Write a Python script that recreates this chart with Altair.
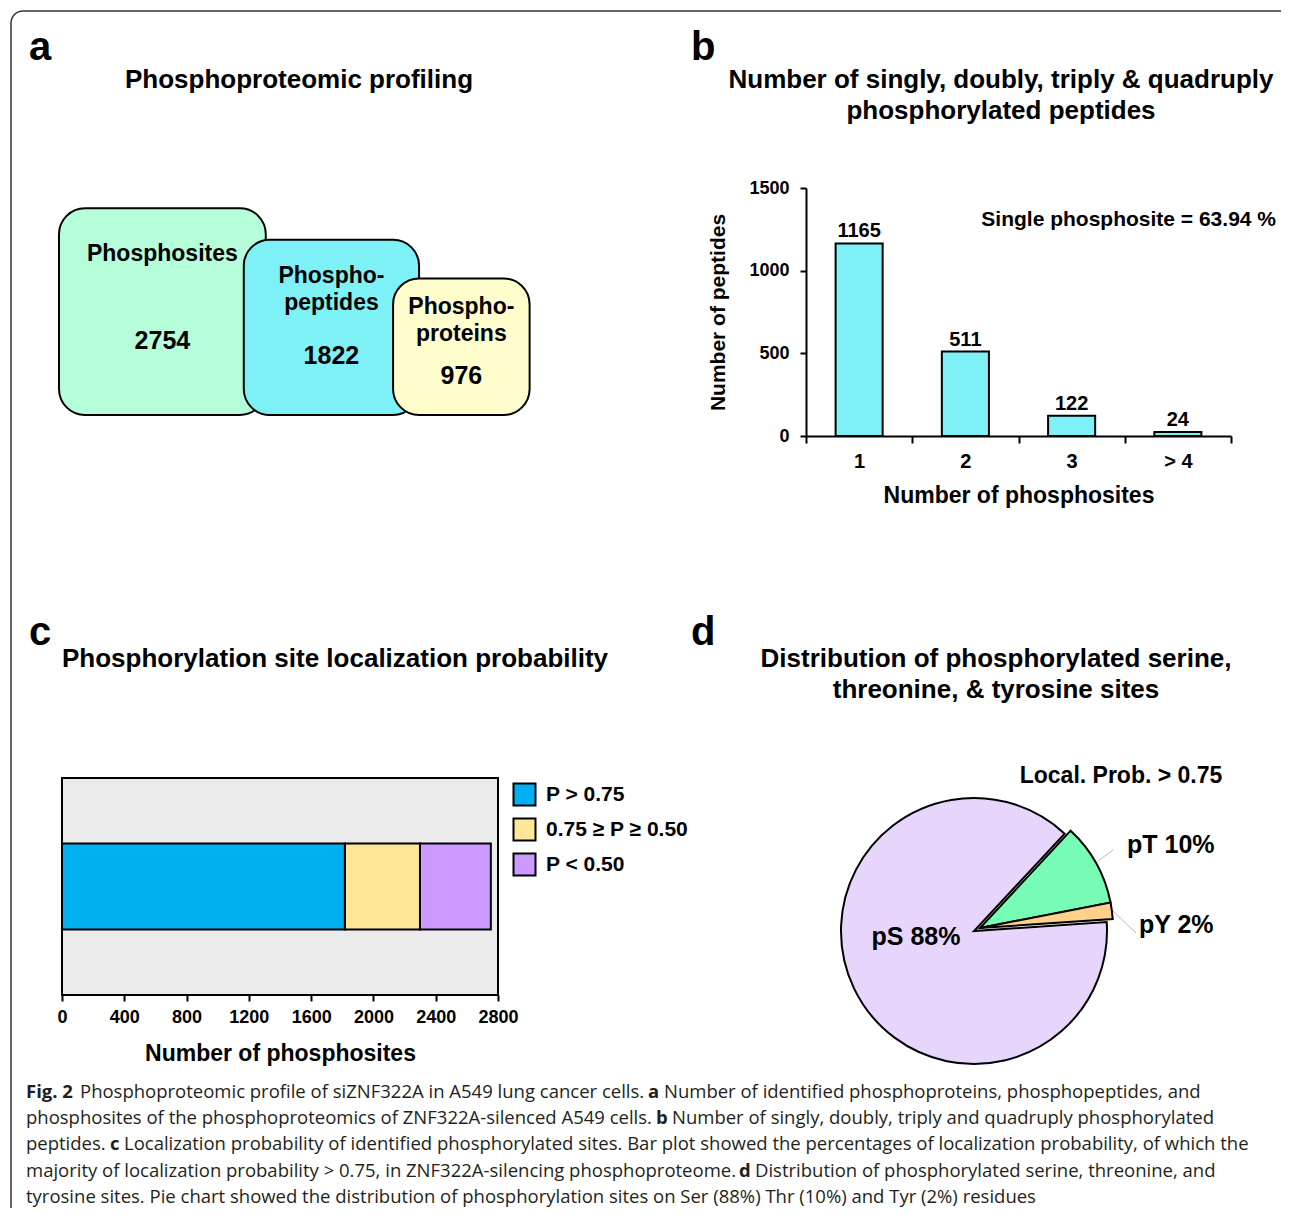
import math
import altair as alt
import pandas as pd

FONT = "Liberation Sans"
CAP_FONT = "Open Sans"

# ---------------- data ----------------
# panel a
a_names = ["Phosphosites", "Phosphopeptides", "Phosphoproteins"]
a_counts = [2754, 1822, 976]
a_lines = [["Phosphosites"], ["Phospho-", "peptides"], ["Phospho-", "proteins"]]
a_colors = ["#B6FDDA", "#7DF1F6", "#FFFDCB"]

# panel b
b_cats = ["1", "2", "3", "> 4"]
b_vals = [1165, 511, 122, 24]
b_ticks = [0, 500, 1000, 1500]

# panel c
c_cats = ["P > 0.75", "0.75 ≥ P ≥ 0.50", "P < 0.50"]
c_vals = [1817, 482, 455]
c_colors = ["#00B0F0", "#FFE699", "#CC99FF"]
c_ticks = [0, 400, 800, 1200, 1600, 2000, 2400, 2800]

# panel d
d_cats = ["pT", "pY", "pS"]
d_pcts = [10, 2, 88]
d_colors = ["#76FCB4", "#FFD18C", "#E8D5FC"]

# caption (text, bold)
caption_lines = [
    [("Fig. 2", True), ("Phosphoproteomic profile of siZNF322A in A549 lung cancer cells.", False),
     ("a", True), ("Number of identified phosphoproteins, phosphopeptides, and", False)],
    [("phosphosites of the phosphoproteomics of ZNF322A-silenced A549 cells.", False),
     ("b", True), ("Number of singly, doubly, triply and quadruply phosphorylated", False)],
    [("peptides.", False), ("c", True),
     ("Localization probability of identified phosphorylated sites. Bar plot showed the percentages of localization probability, of which the", False)],
    [("majority of localization probability > 0.75, in ZNF322A-silencing phosphoproteome.", False),
     ("d", True), ("Distribution of phosphorylated serine, threonine, and", False)],
    [("tyrosine sites. Pie chart showed the distribution of phosphorylation sites on Ser (88%) Thr (10%) and Tyr (2%) residues", False)],
]
caption_x = [[-36, 18, 586, 602], [-36, 594, 610], [-36, 48, 62], [-36, 677, 693], [-36]]
caption_y = [314, 340, 366, 393, 419]


def axis(**kw):
    base = dict(domainColor="black", domainWidth=2, tickColor="black", tickWidth=2, tickSize=6,
                labelFont=FONT, labelFontSize=18, labelFontWeight="bold", labelColor="black",
                titleFont=FONT, titleFontWeight="bold", titleColor="black", grid=False)
    base.update(kw)
    return alt.Axis(**base)


def label(text, x, y, size, align="center", weight="bold", baseline="middle", font=FONT, color="black"):
    return alt.Chart(pd.DataFrame({"t": [text]})).mark_text(
        align=align, baseline=baseline, fontSize=size, fontWeight=weight, font=font, color=color
    ).encode(x=alt.value(x), y=alt.value(y), text="t:N")


# ---------------- panel a ----------------
side = [8.7 * c ** 0.4 for c in a_counts]
overlaps = [0, 22, 26]
x0 = []
cur = 0.0
for i, s in enumerate(side):
    if i > 0:
        cur += side[i - 1] - overlaps[i]
    x0.append(cur)
dfa = pd.DataFrame({"name": a_names, "count": a_counts, "x0": x0,
                    "x1": [a + s for a, s in zip(x0, side)], "y1": side})
dfa["y0"] = 0.0
dfa["xc"] = dfa["x0"] + dfa["y1"] / 2
dfa["yn"] = dfa["y1"] / 2 - 29
gaps = [46, 36, 29]
rows = []
for i, (lines, s) in enumerate(zip(a_lines, side)):
    for k, t in enumerate(lines):
        rows.append({"t": t, "x": x0[i] + s / 2, "y": s - gaps[i] - 27 * k})
dfa_lab = pd.DataFrame(rows)

xs_a = alt.Scale(domain=[3, 471], nice=False, zero=False)
ys_a = alt.Scale(domain=[-21, 227], nice=False, zero=False)

boxes = alt.Chart(dfa).mark_rect(cornerRadius=26, stroke="black", strokeWidth=2).encode(
    x=alt.X("x0:Q", scale=xs_a, axis=None), x2="x1:Q",
    y=alt.Y("y0:Q", scale=ys_a, axis=None), y2="y1:Q",
    color=alt.Color("name:N", scale=alt.Scale(domain=a_names, range=a_colors), legend=None),
)
nums = alt.Chart(dfa).mark_text(fontSize=25, fontWeight="bold", baseline="middle").encode(
    x=alt.X("xc:Q", scale=xs_a, axis=None), y=alt.Y("yn:Q", scale=ys_a, axis=None),
    text=alt.Text("count:Q", format="d"),
)
labs = alt.Chart(dfa_lab).mark_text(fontSize=23, fontWeight="bold", baseline="middle").encode(
    x=alt.X("x:Q", scale=xs_a, axis=None), y=alt.Y("y:Q", scale=ys_a, axis=None), text="t:N",
)
border_top = alt.Chart(pd.DataFrame({"v": [0]})).mark_rule(color="#333333", strokeWidth=1.5).encode(
    x=alt.value(-39), x2=alt.value(1219), y=alt.value(-177))
border_left = alt.Chart(pd.DataFrame({"v": [0]})).mark_rule(color="#333333", strokeWidth=1.5).encode(
    x=alt.value(-51), y=alt.value(-165), y2=alt.value(1020))
border_corner = alt.Chart(pd.DataFrame({"v": [0]})).mark_arc(color="#333333").encode(
    x=alt.value(-39), y=alt.value(-165), theta=alt.value(4.7124), theta2=alt.value(6.2832),
    radius=alt.value(12.75), radius2=alt.value(11.25))

panel_a = alt.layer(
    boxes, nums, labs,
    label("a", -33, -140, 40, align="left"),
    label("Phosphoproteomic profiling", 237, -108, 26),
    border_top, border_left, border_corner,
).properties(width=468, height=248)

# ---------------- panel b ----------------
dfb = pd.DataFrame({"k": b_cats, "n": b_vals})
xb = alt.X("k:N", sort=b_cats, title="Number of phosphosites",
           scale=alt.Scale(paddingInner=0, paddingOuter=0),
           axis=axis(labelAngle=0, tickBand="extent", tickSize=7, labelPadding=8, labelFontSize=20,
                     titleFontSize=23, titlePadding=13))
yb = alt.Y("n:Q", title="Number of peptides", scale=alt.Scale(domain=[0, 1500], nice=False),
           axis=axis(values=b_ticks, format="d", labelPadding=11, titleFontSize=21, titlePadding=20))
bars_b = alt.Chart(dfb).mark_bar(color="#7DF1F6", stroke="black", strokeWidth=2,
                                 width=alt.RelativeBandSize(0.443)).encode(x=xb, y=yb)
vals_b = alt.Chart(dfb).mark_text(dy=-6, baseline="alphabetic", fontSize=20, fontWeight="bold").encode(
    x=alt.X("k:N", sort=b_cats), y="n:Q", text=alt.Text("n:Q", format="d"))

panel_b = alt.layer(
    bars_b, vals_b,
    label("b", -115, -140, 40, align="left"),
    label("Number of singly, doubly, triply & quadruply", 195, -108, 26),
    label("phosphorylated peptides", 195, -77, 26),
    label("Single phosphosite = 63.94 %", 470, 32, 21, align="right"),
).properties(width=425, height=248)

# ---------------- panel c ----------------
dfc = pd.DataFrame({"cat": c_cats, "n": c_vals, "idx": [0, 1, 2], "g": ["All"] * 3})
c_color = alt.Color("cat:N", scale=alt.Scale(domain=c_cats, range=c_colors), legend=None)
bar_c = alt.Chart(dfc).mark_bar(stroke="black", strokeWidth=2).encode(
    x=alt.X("n:Q", stack="zero", title="Number of phosphosites",
            scale=alt.Scale(domain=[0, 2800], nice=False),
            axis=axis(values=c_ticks, format="d", labelOverlap=False, labelFlush=False,
                      labelPadding=7, titleFontSize=23, titlePadding=16, domain=False)),
    y=alt.Y("g:N", scale=alt.Scale(paddingInner=0, paddingOuter=0.762), axis=None),
    color=c_color,
    order=alt.Order("idx:Q"),
)
leg_y = alt.Y("cat:N", scale=alt.Scale(type="point", domain=c_cats, range=[16.5, 86.5], padding=0), axis=None)
leg_sq = alt.Chart(dfc).mark_square(size=484, stroke="black", strokeWidth=2, opacity=1).encode(
    x=alt.value(462.5), y=leg_y, color=c_color)
leg_tx = alt.Chart(dfc).mark_text(align="left", baseline="middle", fontSize=21, fontWeight="bold").encode(
    x=alt.value(484), y=leg_y, text="cat:N")

cap_layers = []
for line, xs, yy in zip(caption_lines, caption_x, caption_y):
    for (t, bold), xx in zip(line, xs):
        cap_layers.append(label(t, xx, yy, 18.5, align="left", weight="bold" if bold else "normal",
                                font=CAP_FONT, color="#231F20"))

panel_c = alt.layer(
    bar_c, leg_sq, leg_tx,
    label("c", -33, -145, 40, align="left"),
    label("Phosphorylation site localization probability", 0, -119, 26, align="left"),
    *cap_layers,
).resolve_scale(y="independent").properties(
    width=436, height=217,
    view=alt.ViewBackground(fill="#EBEBEB", stroke="black", strokeWidth=2),
)

# ---------------- panel d ----------------
dfd = pd.DataFrame({"cat": d_cats, "pct": d_pcts, "idx": [0, 1, 2]})
base_d = alt.Chart(dfd).transform_stack(stack="pct", as_=["t0", "t1"], groupby=[],
                                         sort=[alt.SortField("idx", order="ascending")])
theta_scale = alt.Scale(domain=[0, 100], range=[0.75, 0.75 + 2 * math.pi])
d_color = alt.Color("cat:N", scale=alt.Scale(domain=d_cats, range=d_colors), legend=None)
pie_main = base_d.transform_filter("datum.cat == 'pS'").mark_arc(
    outerRadius=133, stroke="black", strokeWidth=2).encode(
    theta=alt.Theta("t0:Q", scale=theta_scale, stack=False), theta2="t1:Q", color=d_color,
    x=alt.value(168), y=alt.value(153))
pie_exp = base_d.transform_filter("datum.cat != 'pS'").mark_arc(
    outerRadius=133, stroke="black", strokeWidth=2, xOffset=6, yOffset=-3).encode(
    theta=alt.Theta("t0:Q", scale=theta_scale, stack=False), theta2="t1:Q", color=d_color,
    x=alt.value(168), y=alt.value(153))
lead1 = alt.Chart(pd.DataFrame({"v": [0]})).mark_rule(color="#BBBBBB", strokeWidth=1).encode(
    x=alt.value(292), y=alt.value(83), x2=alt.value(307), y2=alt.value(72))
lead2 = alt.Chart(pd.DataFrame({"v": [0]})).mark_rule(color="#BBBBBB", strokeWidth=1).encode(
    x=alt.value(307), y=alt.value(133), x2=alt.value(330), y2=alt.value(155))

panel_d = alt.layer(
    pie_main, pie_exp, lead1, lead2,
    label("d", -115, -145, 40, align="left"),
    label("Distribution of phosphorylated serine,", 190, -119, 26),
    label("threonine, & tyrosine sites", 190, -88, 26),
    label("Local. Prob. > 0.75", 315, -2, 23),
    label("pS 88%", 110, 159, 25),
    label("pT 10%", 321, 67, 25, align="left"),
    label("pY 2%", 333, 147, 25, align="left"),
).properties(width=425, height=286)

chart = alt.concat(
    panel_a, panel_b, panel_c, panel_d,
    columns=2, spacing={"row": 342, "column": 276}, bounds="flush",
).resolve_scale(color="independent").properties(
    padding={"left": 2, "top": 2, "right": 0, "bottom": 0},
    autosize=alt.AutoSizeParams(type="pad"),
    background="white",
).configure(font=FONT).configure_view(strokeWidth=0)

chart.save("out.html", embed_options={"renderer": "svg", "actions": False})
